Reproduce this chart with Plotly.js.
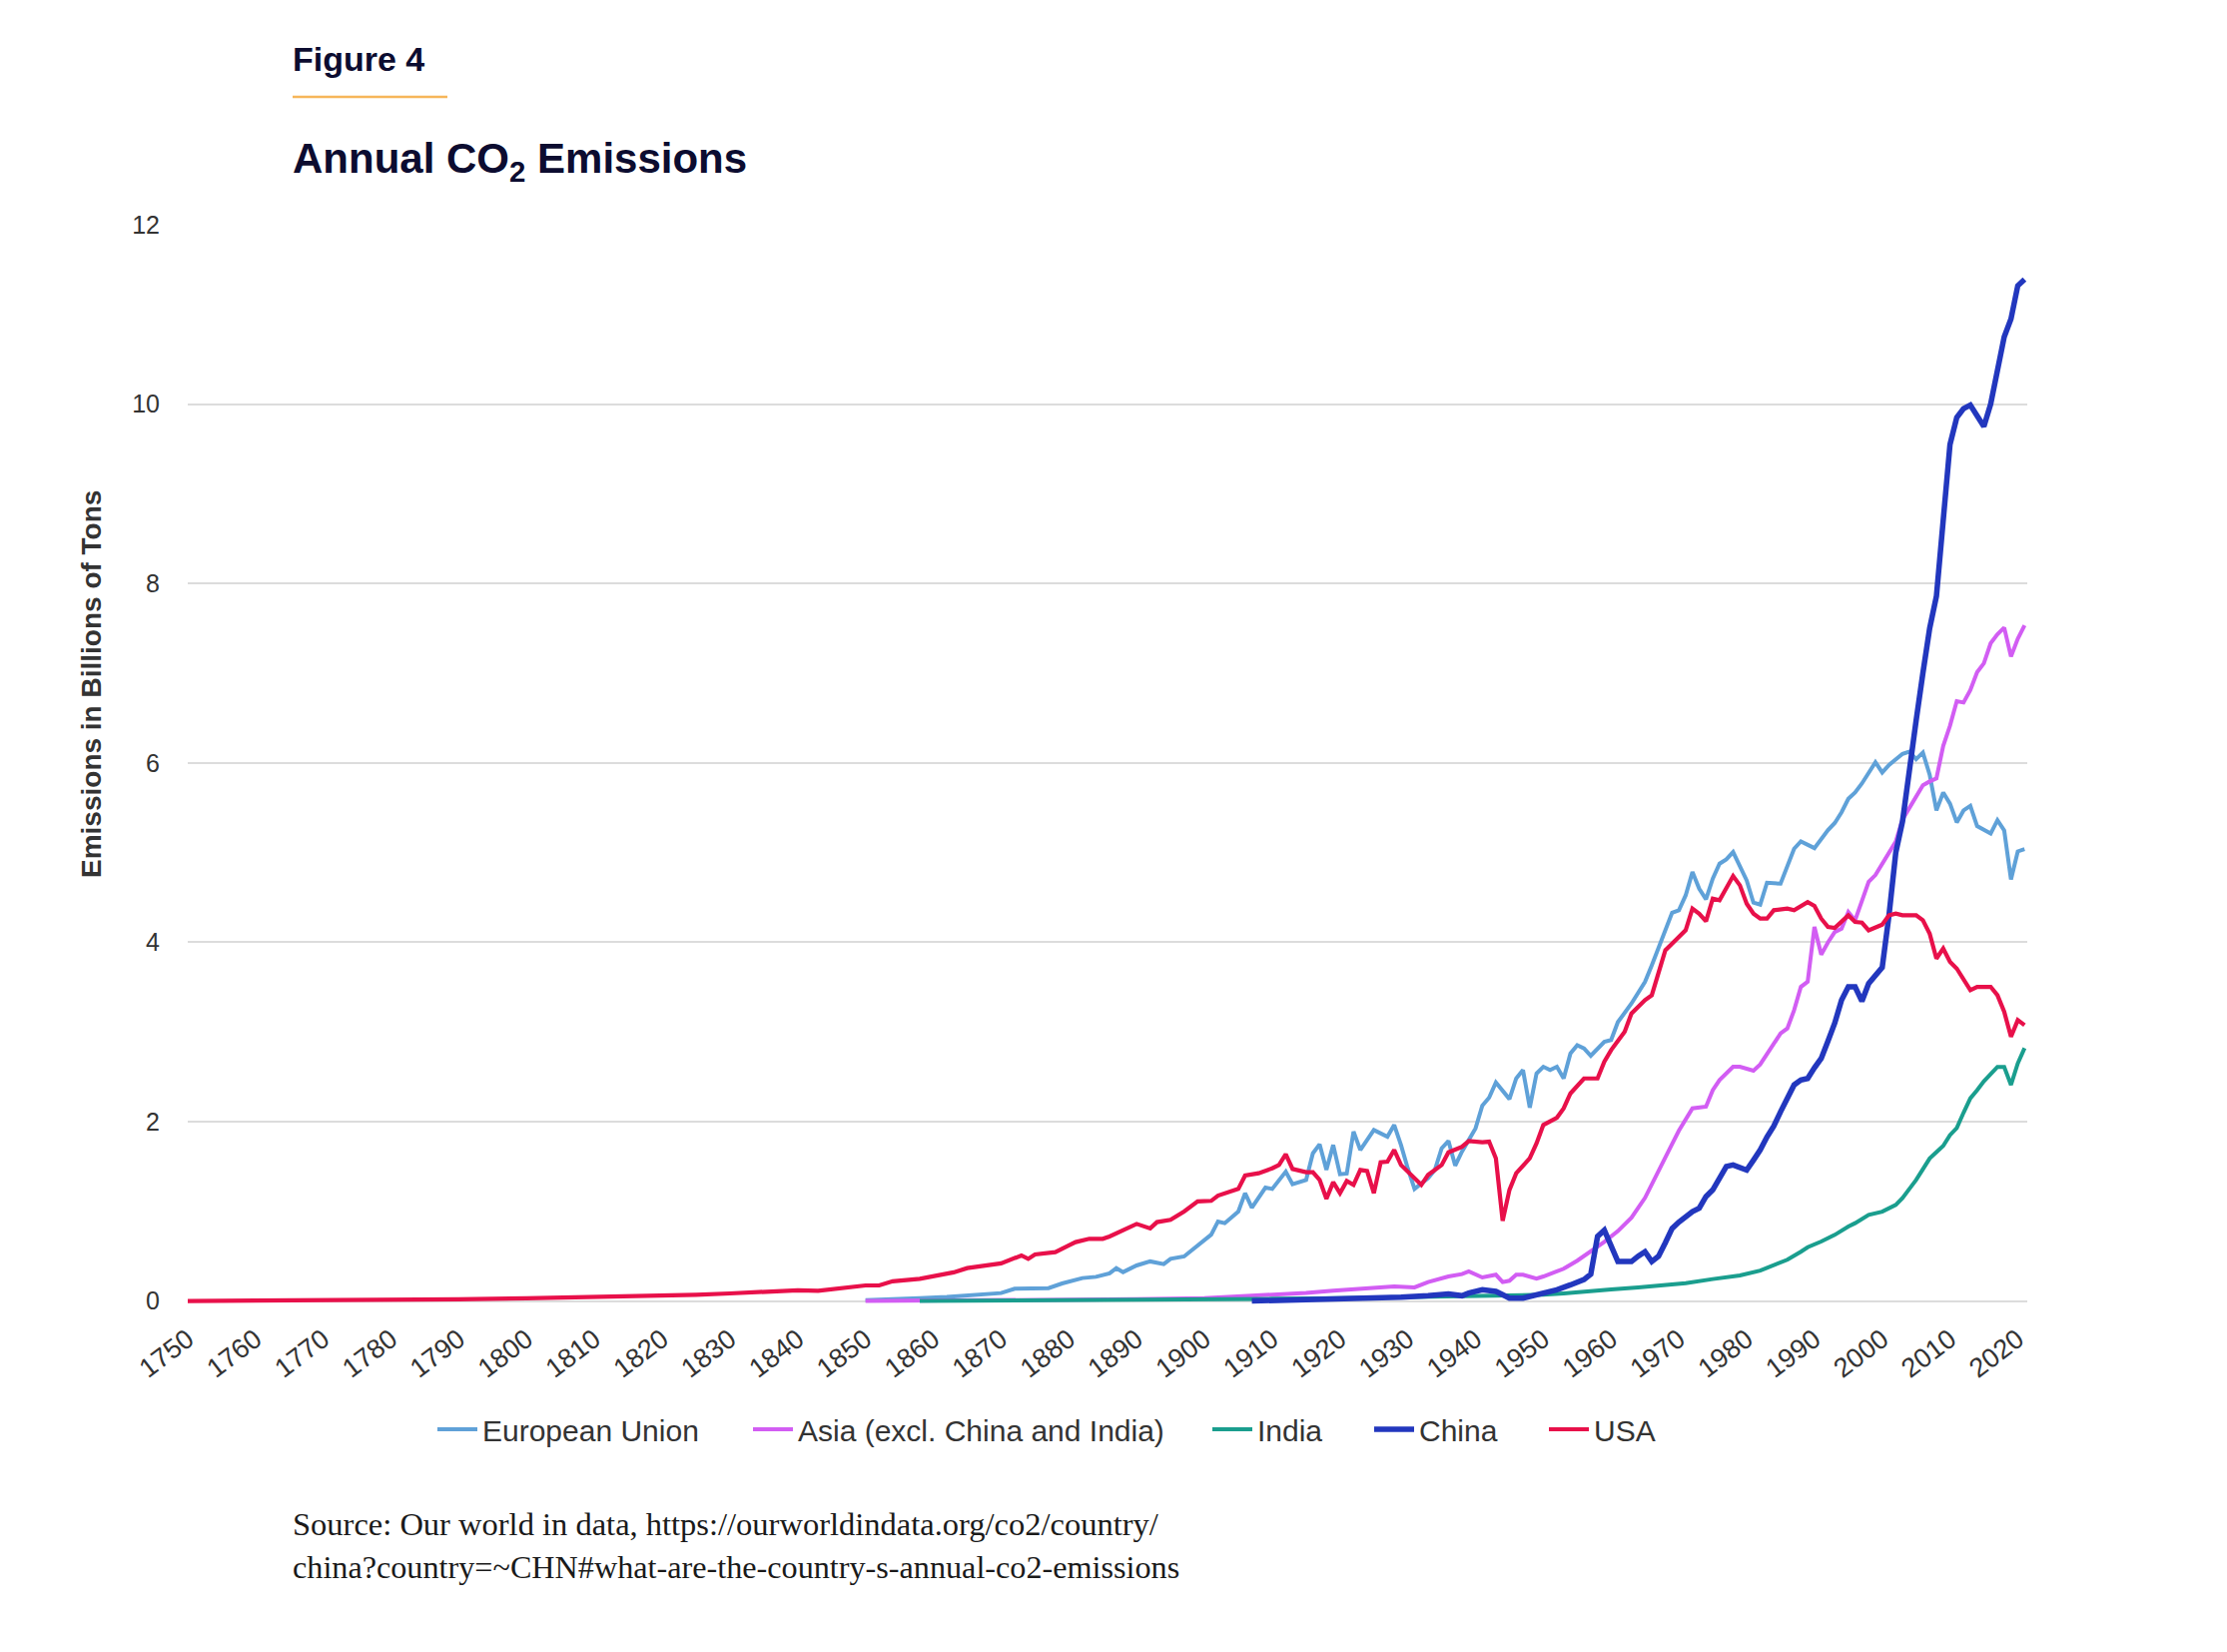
<!DOCTYPE html>
<html>
<head>
<meta charset="utf-8">
<script src="https://cdn.plot.ly/plotly-3.0.1.min.js"></script>
<style>
html,body{margin:0;padding:0;background:#fff;}
#chart{width:2230px;height:1654px;}
</style>
</head>
<body>
<div id="chart"></div>
<script>
// ---------- data (billions of tons CO2) ----------
const euYears = [1850,1855,1858,1862,1866,1870,1872,1877,1879,1882,1884,1886,1887,1888,1890,1892,1894,1895,1897,1899,1901,1902,1903,1905,1906,1907,1909,1910,1912,1913,1915,1916,1917,1918,1919,1920,1921,1922,1923,1925,1927,1928,1929,1930,1931,1933,1934,1935,1936,1937,1938,1940,1941,1942,1943,1945,1946,1947,1948,1949,1950,1951,1952,1953,1954,1955,1956,1957,1959,1960,1961,1963,1965,1966,1967,1968,1969,1970,1971,1972,1973,1974,1975,1976,1977,1978,1979,1980,1981,1982,1983,1985,1987,1988,1990,1992,1993,1994,1995,1996,1997,1999,2000,2001,2003,2004,2005,2006,2007,2008,2009,2010,2011,2012,2013,2014,2016,2017,2018,2019,2020,2021];
const euValues = [0.01,0.02,0.033,0.045,0.063,0.089,0.137,0.144,0.196,0.256,0.27,0.308,0.367,0.323,0.397,0.442,0.412,0.471,0.497,0.62,0.74,0.887,0.868,0.998,1.202,1.042,1.265,1.25,1.443,1.302,1.35,1.647,1.748,1.462,1.74,1.414,1.421,1.889,1.684,1.907,1.833,1.963,1.74,1.48,1.25,1.369,1.462,1.703,1.785,1.51,1.666,1.926,2.178,2.267,2.438,2.252,2.482,2.575,2.156,2.538,2.612,2.575,2.612,2.482,2.761,2.853,2.816,2.735,2.891,2.91,3.11,3.317,3.559,3.744,3.948,4.152,4.33,4.357,4.523,4.783,4.598,4.479,4.709,4.876,4.924,5.006,4.857,4.69,4.442,4.42,4.664,4.653,5.043,5.125,5.05,5.25,5.33,5.45,5.6,5.67,5.77,6.007,5.893,5.977,6.101,6.126,6.041,6.116,5.868,5.47,5.669,5.545,5.336,5.47,5.52,5.296,5.212,5.361,5.246,4.7,5.013,5.038];

const asiaYears = [1850,1860,1870,1880,1890,1900,1905,1910,1915,1919,1924,1928,1931,1933,1936,1938,1939,1941,1943,1944,1945,1946,1947,1949,1950,1952,1953,1955,1957,1959,1961,1963,1965,1967,1968,1969,1970,1972,1974,1975,1976,1978,1979,1981,1982,1983,1985,1986,1987,1988,1989,1990,1991,1992,1993,1994,1995,1996,1997,1998,1999,2000,2001,2002,2003,2004,2005,2006,2007,2008,2009,2010,2011,2012,2013,2014,2015,2016,2017,2018,2019,2020,2021];
const asiaValues = [0.0,0.003,0.006,0.01,0.02,0.033,0.05,0.07,0.09,0.115,0.137,0.163,0.152,0.211,0.274,0.3,0.33,0.263,0.293,0.211,0.226,0.293,0.293,0.25,0.274,0.33,0.36,0.45,0.55,0.66,0.78,0.93,1.15,1.44,1.6,1.75,1.9,2.148,2.167,2.352,2.464,2.612,2.612,2.568,2.638,2.75,2.983,3.039,3.243,3.503,3.56,4.171,3.863,4.0,4.115,4.152,4.338,4.245,4.45,4.675,4.75,4.874,5.0,5.122,5.37,5.5,5.619,5.75,5.793,5.828,6.19,6.414,6.688,6.673,6.812,7.011,7.11,7.334,7.433,7.508,7.185,7.384,7.533];

const indiaYears = [1858,1870,1880,1890,1900,1910,1920,1930,1940,1945,1950,1953,1956,1960,1964,1968,1971,1975,1979,1982,1984,1986,1988,1989,1991,1993,1995,1996,1998,2000,2002,2003,2004,2005,2006,2007,2008,2009,2010,2011,2012,2013,2014,2015,2016,2017,2018,2019,2020,2021];
const indiaValues = [0.0,0.004,0.008,0.012,0.018,0.025,0.032,0.042,0.055,0.063,0.07,0.085,0.1,0.13,0.152,0.175,0.2,0.245,0.285,0.34,0.4,0.46,0.55,0.6,0.664,0.738,0.83,0.868,0.96,0.997,1.072,1.15,1.25,1.35,1.47,1.59,1.66,1.73,1.85,1.93,2.1,2.26,2.35,2.45,2.53,2.61,2.61,2.41,2.65,2.82];

const chinaYears = [1907,1910,1915,1920,1924,1929,1933,1936,1938,1939,1941,1943,1944,1945,1947,1949,1950,1952,1954,1956,1957,1958,1959,1960,1961,1962,1963,1964,1965,1966,1967,1968,1969,1970,1971,1972,1973,1974,1975,1976,1977,1978,1979,1980,1981,1982,1983,1984,1985,1986,1987,1988,1989,1990,1991,1992,1993,1994,1995,1996,1997,1998,1999,2000,2001,2002,2003,2004,2005,2006,2007,2008,2009,2010,2011,2012,2013,2014,2015,2016,2017,2018,2019,2020,2021];
const chinaValues = [0.0,0.005,0.015,0.025,0.04,0.044,0.059,0.078,0.059,0.089,0.126,0.107,0.07,0.033,0.033,0.07,0.09,0.126,0.18,0.24,0.3,0.72,0.79,0.62,0.44,0.44,0.44,0.5,0.55,0.44,0.5,0.65,0.81,0.88,0.94,0.997,1.035,1.165,1.24,1.37,1.5,1.517,1.49,1.46,1.57,1.685,1.83,1.95,2.11,2.27,2.41,2.464,2.482,2.6,2.705,2.9,3.1,3.355,3.503,3.503,3.343,3.54,3.633,3.72,4.3,5.0,5.35,5.95,6.47,7.0,7.5,7.86,8.7,9.55,9.85,9.95,9.99,9.87,9.75,10.0,10.39,10.75,10.95,11.32,11.39];

const usaYears = [1750,1760,1770,1780,1790,1800,1810,1820,1825,1830,1835,1840,1843,1846,1848,1850,1852,1854,1858,1861,1863,1865,1868,1870,1873,1874,1875,1878,1880,1881,1883,1885,1886,1888,1890,1892,1893,1895,1897,1899,1901,1902,1905,1906,1908,1910,1911,1912,1913,1915,1916,1917,1918,1919,1920,1921,1922,1923,1924,1925,1926,1927,1928,1929,1931,1932,1933,1935,1936,1938,1939,1941,1942,1943,1944,1945,1946,1948,1949,1950,1952,1953,1954,1956,1958,1959,1960,1962,1963,1964,1965,1966,1967,1968,1969,1971,1972,1973,1974,1975,1976,1978,1979,1980,1981,1982,1983,1984,1986,1987,1989,1990,1991,1992,1993,1995,1996,1997,1998,2000,2001,2002,2003,2005,2006,2007,2008,2009,2010,2011,2013,2014,2016,2017,2018,2019,2020,2021];
const usaValues = [0.0,0.003,0.007,0.012,0.02,0.03,0.042,0.058,0.07,0.085,0.1,0.12,0.115,0.145,0.16,0.174,0.174,0.22,0.248,0.293,0.32,0.367,0.397,0.42,0.508,0.47,0.52,0.545,0.62,0.657,0.694,0.694,0.72,0.79,0.86,0.81,0.88,0.905,0.998,1.11,1.117,1.176,1.25,1.399,1.425,1.48,1.517,1.636,1.473,1.436,1.436,1.35,1.139,1.325,1.202,1.339,1.295,1.462,1.451,1.202,1.547,1.555,1.685,1.517,1.369,1.295,1.406,1.517,1.658,1.72,1.785,1.77,1.777,1.592,0.894,1.239,1.425,1.592,1.759,1.963,2.044,2.148,2.315,2.482,2.482,2.668,2.798,3.002,3.206,3.28,3.355,3.41,3.67,3.911,3.985,4.134,4.375,4.319,4.234,4.486,4.468,4.739,4.635,4.431,4.319,4.264,4.264,4.357,4.375,4.357,4.449,4.405,4.264,4.171,4.16,4.301,4.227,4.219,4.134,4.197,4.301,4.319,4.301,4.301,4.245,4.097,3.818,3.93,3.781,3.707,3.466,3.503,3.503,3.41,3.225,2.946,3.132,3.076];

const seriesNames = ['European Union','Asia (excl. China and India)','India','China','USA'];
const seriesColors = ['#5fa1d8','#d25df3','#1a9e8e','#2237be','#e8104a'];
const xTickVals = [1750,1760,1770,1780,1790,1800,1810,1820,1830,1840,1850,1860,1870,1880,1890,1900,1910,1920,1930,1940,1950,1960,1970,1980,1990,2000,2010,2020];
const yTickVals = [0,2,4,6,8,10,12];

// ---------- layout geometry ----------
const W = 2230, H = 1654;
const M = {l:188, r:200, t:225, b:346};
const plotW = W - M.l - M.r, plotH = H - M.t - M.b;
const px = x => (x - M.l) / plotW;          // pixel -> paper x
const py = y => (H - M.b - y) / plotH;      // pixel -> paper y

const xs = [euYears, asiaYears, indiaYears, chinaYears, usaYears];
const ys = [euValues, asiaValues, indiaValues, chinaValues, usaValues];
const widths = [4, 4, 4, 5.5, 4.2];
const legendX = [441, 757, 1217, 1379, 1554];
const legendKeys = ['legend','legend2','legend3','legend4','legend5'];

const traces = seriesNames.map((name, i) => ({
  type: 'scatter', mode: 'lines', name: name,
  x: xs[i], y: ys[i],
  line: {color: seriesColors[i], width: widths[i]},
  legend: legendKeys[i],
  hoverinfo: 'x+y+name'
}));

const legendFont = {family: 'Liberation Sans, Arial, sans-serif', size: 30, color: '#333333'};
const layout = {
  width: W, height: H,
  margin: M,
  paper_bgcolor: '#ffffff', plot_bgcolor: '#ffffff',
  showlegend: true,
  xaxis: {
    range: [1750, 2021.4], tickmode: 'array', tickvals: xTickVals,
    tickangle: -37, showgrid: false, zeroline: false, showline: false, ticks: '',
    tickfont: {family: 'Liberation Sans, Arial, sans-serif', size: 27, color: '#333333'},
    ticklabelstandoff: 11
  },
  yaxis: {
    range: [-0.06, 12], tickmode: 'array', tickvals: yTickVals,
    showgrid: true, gridcolor: '#dcdcdc', gridwidth: 2, zeroline: false, showline: false, ticks: '',
    tickfont: {family: 'Liberation Sans, Arial, sans-serif', size: 25, color: '#333333'},
    ticklabelstandoff: 27
  },
  annotations: [
    {text: '<b>Figure 4</b>', xref: 'paper', yref: 'paper', x: px(291), y: py(59), xanchor: 'left', yanchor: 'middle', showarrow: false,
     font: {family: 'Liberation Sans, Arial, sans-serif', size: 34, color: '#0c0c30'}},
    {text: '<b>Annual CO<sub>2</sub> Emissions</b>', xref: 'paper', yref: 'paper', x: px(291), y: py(162), xanchor: 'left', yanchor: 'middle', showarrow: false,
     font: {family: 'Liberation Sans, Arial, sans-serif', size: 42, color: '#0c0c30'}},
    {text: '<b>Emissions in Billions of Tons</b>', xref: 'paper', yref: 'paper', x: px(91), y: py(685), xanchor: 'center', yanchor: 'middle', textangle: -90, showarrow: false,
     font: {family: 'Liberation Sans, Arial, sans-serif', size: 28, color: '#333333'}},
    {text: 'Source: Our world in data, https://ourworldindata.org/co2/country/', xref: 'paper', yref: 'paper', x: px(291), y: py(1526), xanchor: 'left', yanchor: 'middle', showarrow: false,
     font: {family: 'Liberation Serif, Times New Roman, serif', size: 32.5, color: '#1a1a1a'}},
    {text: 'china?country=~CHN#what-are-the-country-s-annual-co2-emissions', xref: 'paper', yref: 'paper', x: px(291), y: py(1569), xanchor: 'left', yanchor: 'middle', showarrow: false,
     font: {family: 'Liberation Serif, Times New Roman, serif', size: 32.2, color: '#1a1a1a'}}
  ],
  shapes: [
    {type: 'line', xref: 'paper', yref: 'paper', x0: px(293), x1: px(448), y0: py(97), y1: py(97),
     line: {color: '#f6b65a', width: 2.5}}
  ]
};
legendKeys.forEach((k, i) => {
  layout[k] = {
    orientation: 'h', x: px(legendX[i] - 8), y: py(1431), xanchor: 'left', yanchor: 'middle',
    font: legendFont, bgcolor: 'rgba(0,0,0,0)', borderwidth: 0, itemwidth: 40
  };
});

Plotly.newPlot('chart', traces, layout, {displayModeBar: false, staticPlot: true});
</script>
</body>
</html>
